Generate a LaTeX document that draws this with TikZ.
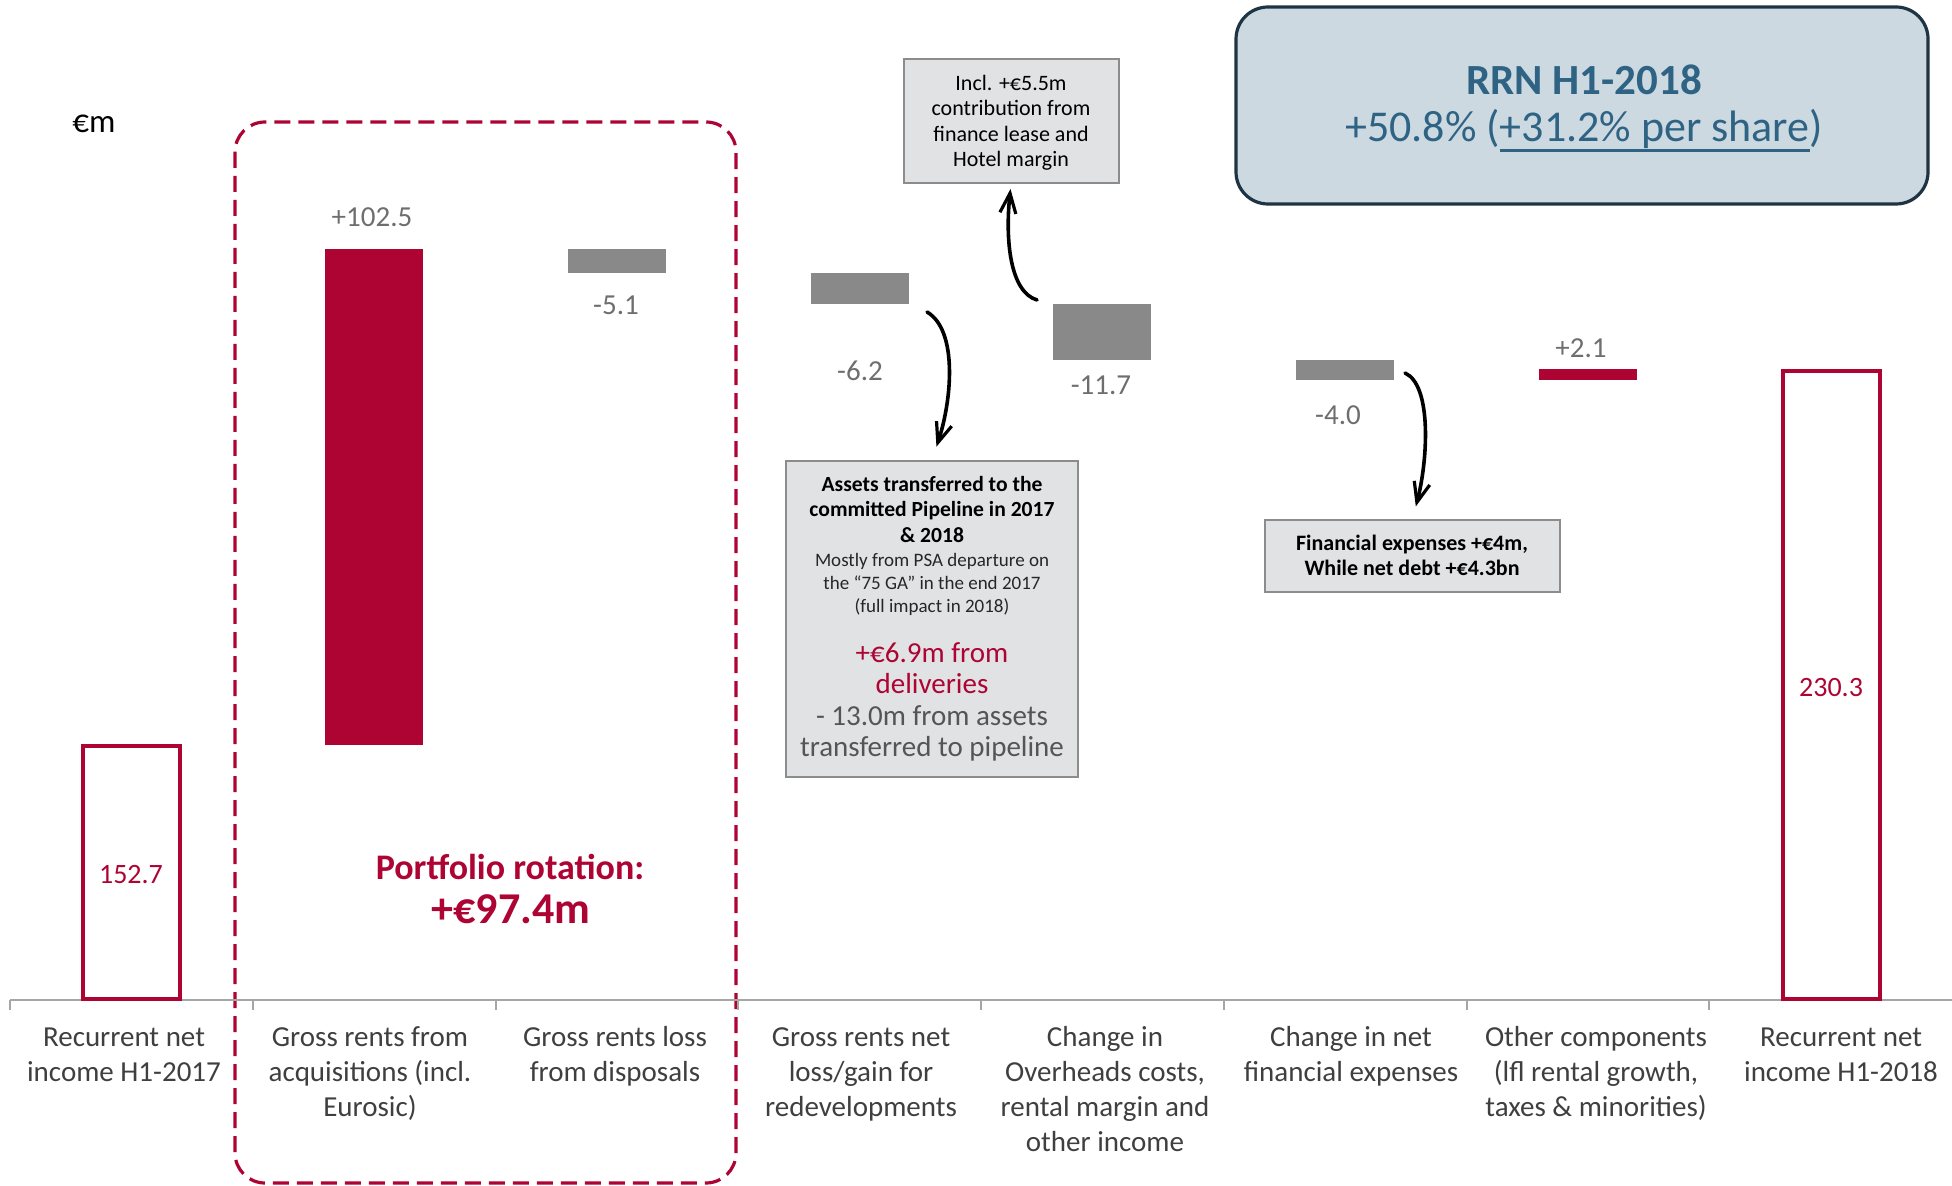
\documentclass[tikz,border=0pt]{standalone}
\usepackage{fontspec}
\setmainfont{Carlito}
\usetikzlibrary{arrows.meta}
\definecolor{crim}{HTML}{AD0434}
\definecolor{bargray}{HTML}{898989}
\definecolor{valgray}{HTML}{6E6E6E}
\definecolor{cattext}{HTML}{3F3F3F}
\definecolor{axisgray}{HTML}{A6A6A6}
\definecolor{boxfill}{HTML}{E1E2E4}
\definecolor{boxline}{HTML}{8C8C8C}
\definecolor{rrnfill}{HTML}{CCD9E1}
\definecolor{rrnline}{HTML}{1E3445}
\definecolor{rrntext}{HTML}{2F6384}
\definecolor{darktext}{HTML}{555555}
\newcommand\fs[2]{\fontsize{#1}{#2}\selectfont}
\newcommand\tstrut[1]{\rule{0pt}{#1}}
\newcommand\ulbar[1]{\setbox0\hbox{#1}\rlap{\rule[-5pt]{\wd0}{1.6pt}}\box0}
\begin{document}
\begin{tikzpicture}[x=0.5pt,y=-0.5pt,
  cat/.style={anchor=north, align=center, inner sep=0pt, text=cattext, font=\fs{14.5}{17.5}},
  val/.style={anchor=base, inner sep=0pt, text=valgray, font=\fs{14.5}{17}},
  redval/.style={anchor=base, inner sep=0pt, text=crim, font=\fs{14}{17}},
  note/.style={draw=boxline, fill=boxfill, line width=1pt, inner sep=0pt},
  notetext/.style={anchor=north, align=center, inner sep=0pt},
  curly/.style={line width=1.8pt, line cap=round, -{Straight Barb[length=10pt,width=8pt,line width=1.6pt]}},
  outbar/.style={draw=crim, line width=2pt},
]
\useasboundingbox (0,0) rectangle (1952,1186);

% portfolio rotation frame
\draw[crim, line width=1.6pt, dash pattern=on 8pt off 4pt, rounded corners=15pt] (235,122) rectangle (736,1183);

% axis and ticks
\draw[axisgray, line width=1pt] (10,1000) -- (1952,1000);
\foreach \k in {0,...,7} \draw[axisgray, line width=1pt] ({10+242.75*\k},1000) -- ++(0,10);

% bars
\draw[outbar] (83,746) rectangle (180,999);
\fill[crim] (325,249) rectangle (423,745);
\fill[bargray] (568,249) rectangle (666,273.5);
\fill[bargray] (810.6,273.5) rectangle (908.6,303.6);
\fill[bargray] (1053.4,303.6) rectangle (1151.4,360.2);
\fill[bargray] (1296.1,360.2) rectangle (1394.1,379.6);
\fill[crim] (1538.9,369.5) rectangle (1636.9,379.6);
\draw[outbar] (1783,371) rectangle (1880,999);

% value labels
\node[val] (v1) at (372,227) {+102.5};
\node[val] (v2) at (616,315) {-5.1};
\node[val] (v3) at (860,381) {-6.2};
\node[val] (v4) at (1101,395) {-11.7};
\node[val] (v5) at (1338,425) {-4.0};
\node[val] (v6) at (1581,358) {+2.1};
\node[redval] (n1) at (131,883) {152.7};
\node[redval] (n2) at (1831,696) {230.3};

\node[anchor=base, inner sep=0pt, font=\fs{16.5}{20}] (unit) at (94,133) {€m};

\node[anchor=base, inner sep=0pt, text=crim, font=\bfseries\fs{18}{21}] (pr1) at (510,879) {Portfolio rotation:};
\node[anchor=base, inner sep=0pt, text=crim, font=\bfseries\fs{22}{26}] (pr2) at (511,923) {+€97.4m};

% category labels
\node[cat] (c1) at (124,1022) {\tstrut{12pt}Recurrent net\\income H1-2017};
\node[cat] (c2) at (370,1022) {\tstrut{12pt}Gross rents from\\acquisitions (incl.\\Eurosic)};
\node[cat] (c3) at (615,1022) {\tstrut{12pt}Gross rents loss\\from disposals};
\node[cat] (c4) at (861,1022) {\tstrut{12pt}Gross rents net\\loss/gain for\\redevelopments};
\node[cat] (c5) at (1105,1022) {\tstrut{12pt}Change in\\Overheads costs,\\rental margin and\\other income};
\node[cat] (c6) at (1351,1022) {\tstrut{12pt}Change in net\\financial expenses};
\node[cat] (c7) at (1596,1022) {\tstrut{12pt}Other components\\(lfl rental growth,\\taxes \& minorities)};
\node[cat] (c8) at (1841,1022) {\tstrut{12pt}Recurrent net\\income H1-2018};

% note boxes
\node[note, minimum width=107.5pt, minimum height=62pt] (incl) at (1011,121) {};
\node[notetext, font=\fs{11}{12.75}] (incltxt) at (1011,66) {\tstrut{12pt}Incl. +€5.5m\\contribution from\\finance lease and\\Hotel margin};

\node[note, minimum width=146pt, minimum height=158pt] (assets) at (932,619) {};
\node[notetext, font=\bfseries\fs{10.8}{12.7}] (as1) at (932,467) {\tstrut{12pt}Assets transferred to the\\committed Pipeline in 2017\\\& 2018};
\node[notetext, text=black!85, font=\fs{9.5}{11.4}] (as2) at (932,546) {\tstrut{10pt}Mostly from PSA departure on\\the “75 GA” in the end 2017\\(full impact in 2018)};
\node[notetext, text=crim, font=\fs{14.5}{15.5}] (as3) at (932,634) {\tstrut{14pt}+€6.9m from\\deliveries};
\node[notetext, text=darktext, font=\fs{14.5}{15.75}] (as4) at (932,697) {\tstrut{14pt}- 13.0m from assets\\transferred to pipeline};

\node[note, minimum width=147.5pt, minimum height=36pt] (fin) at (1412.5,556) {};
\node[notetext, font=\bfseries\fs{11}{12.5}] (fintxt) at (1412,526) {\tstrut{12pt}Financial expenses +€4m,\\While net debt +€4.3bn};

% RRN box
\node[draw=rrnline, fill=rrnfill, line width=1.6pt, rounded corners=16pt, minimum width=346pt, minimum height=98.5pt, inner sep=0pt] (rrn) at (1582,105.5) {};
\node[anchor=base, inner sep=0pt, text=rrntext, font=\bfseries\fs{21.5}{25}] (rrn1) at (1584,95) {RRN H1-2018};
\node[anchor=base, inner sep=0pt, text=rrntext, font=\fs{22}{26}] (rrn2) at (1584,142) {+50.8\% (\ulbar{+31.2\% per share})};

% curly arrows
\coordinate (a1s) at (927,312);
\coordinate (a2s) at (1037,300);
\coordinate (a3s) at (1405,373);
\draw[curly, shorten >=7pt] (a1s) .. controls (958,330) and (952,400) .. (assets.north);
\draw[curly, shorten >=2.5pt] (a2s) .. controls (1010,292) and (1005,240) .. (incl.south);
\draw[curly, shorten >=6.5pt] (a3s) .. controls (1432,385) and (1428,460) .. (fin.north);
\end{tikzpicture}
\end{document}
